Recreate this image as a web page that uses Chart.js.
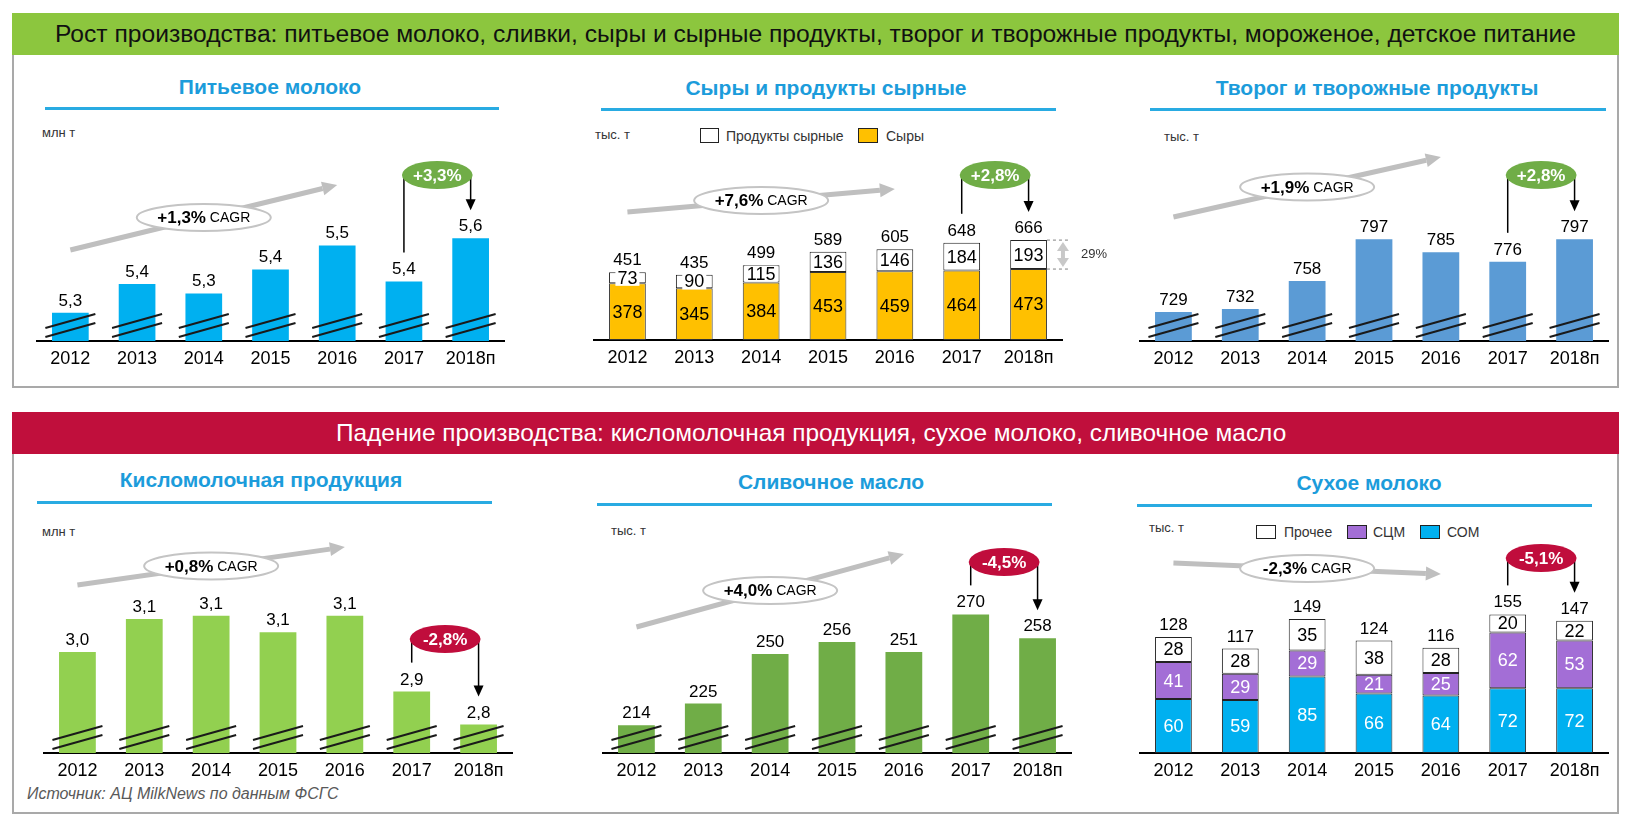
<!DOCTYPE html>
<html lang="ru">
<head>
<meta charset="utf-8">
<title>Производство молочной продукции 2012-2018</title>
<script src="https://cdn.jsdelivr.net/npm/chart.js@4.4.1/dist/chart.umd.min.js"></script>
<style>
  html, body { margin: 0; padding: 0; background: #fff; }
  body { width: 1632px; height: 822px; position: relative; overflow: hidden;
         font-family: "Liberation Sans", Arial, sans-serif; }
  .box { position: absolute; left: 12px; width: 1607px; border: 2px solid #a9a9a9; box-sizing: border-box; }
  .band { position: absolute; left: 12px; width: 1607px; height: 42px; }
  .band span { position: absolute; top: 0; line-height: 42px; white-space: nowrap; transform-origin: left center; }
  .ttl { position: absolute; width: 600px; text-align: center; font-weight: bold; font-size: 21px;
         color: #1c9cdb; line-height: 24px; white-space: nowrap; }
  .uline { position: absolute; height: 3px; background: #29abe2; }
  .unit { position: absolute; font-size: 13px; color: #333; line-height: 14px; white-space: nowrap; }
  .leg { position: absolute; font-size: 14px; color: #333; line-height: 16px; white-space: nowrap; }
  .sw { position: absolute; border: 1px solid #222; box-sizing: border-box; }
  .src { position: absolute; left: 27px; top: 785px; font-size: 16px; font-style: italic; color: #595959; white-space: nowrap; }
  canvas { position: absolute; }
</style>
</head>
<body>

<div class="box" style="top:13px;height:375px"></div>
<div class="band" style="top:13px;background:#8cc63e"><span id="hdrUp" style="left:43px;font-size:23px;color:#111">Рост производства: питьевое молоко, сливки, сыры и сырные продукты, творог и творожные продукты, мороженое, детское питание</span></div>

<div class="box" style="top:412px;height:402px"></div>
<div class="band" style="top:412px;background:#c00f3c"><span id="hdrDown" style="left:324px;font-size:24px;color:#fff">Падение производства: кисломолочная продукция, сухое молоко, сливочное масло</span></div>

<div class="ttl" style="left:-30px;top:75px">Питьевое молоко</div>
<div class="uline" style="left:45px;top:107px;width:454px"></div>
<div class="unit" style="left:42px;top:126px">млн т</div>

<div class="ttl" style="left:526px;top:76px">Сыры и продукты сырные</div>
<div class="uline" style="left:601px;top:108px;width:455px"></div>
<div class="unit" style="left:595px;top:128px">тыс. т</div>
<div class="sw" style="left:700px;top:128px;width:19px;height:15px;background:#fff"></div>
<div class="leg" style="left:726px;top:128px">Продукты сырные</div>
<div class="sw" style="left:858px;top:128px;width:20px;height:15px;background:#ffc000"></div>
<div class="leg" style="left:886px;top:128px">Сыры</div>

<div class="ttl" style="left:1077px;top:76px">Творог и творожные продукты</div>
<div class="uline" style="left:1150px;top:108px;width:456px"></div>
<div class="unit" style="left:1164px;top:130px">тыс. т</div>

<div class="ttl" style="left:-39px;top:468px">Кисломолочная продукция</div>
<div class="uline" style="left:37px;top:501px;width:455px"></div>
<div class="unit" style="left:42px;top:525px">млн т</div>

<div class="ttl" style="left:531px;top:470px">Сливочное масло</div>
<div class="uline" style="left:597px;top:503px;width:455px"></div>
<div class="unit" style="left:611px;top:524px">тыс. т</div>

<div class="ttl" style="left:1069px;top:471px">Сухое молоко</div>
<div class="uline" style="left:1137px;top:504px;width:455px"></div>
<div class="unit" style="left:1149px;top:521px">тыс. т</div>
<div class="sw" style="left:1256px;top:525px;width:20px;height:14px;background:#fff"></div>
<div class="leg" style="left:1284px;top:524px">Прочее</div>
<div class="sw" style="left:1347px;top:525px;width:20px;height:14px;background:#a36ed6"></div>
<div class="leg" style="left:1373px;top:524px">СЦМ</div>
<div class="sw" style="left:1420px;top:525px;width:20px;height:14px;background:#00b0f0"></div>
<div class="leg" style="left:1447px;top:524px">СОМ</div>

<div class="src">Источник: АЦ MilkNews по данным ФСГС</div>

<script>
const FONT = '"Liberation Sans", Arial, sans-serif';

const years = ['2012', '2013', '2014', '2015', '2016', '2017', '2018п'];

// Питьевое молоко, млн т
const milkValues = [5.26, 5.38, 5.34, 5.44, 5.54, 5.39, 5.57];
// Сыры и продукты сырные, тыс. т
const cheeseValues = [378, 345, 384, 453, 459, 464, 473];
const cheeseProductValues = [73, 90, 115, 136, 146, 184, 193];
const cheeseTotals = [451, 435, 499, 589, 605, 648, 666];
// Творог и творожные продукты, тыс. т
const curdValues = [729, 732, 758, 797, 785, 776, 797];
// Кисломолочная продукция, млн т
const fermentedValues = [3.02, 3.12, 3.13, 3.08, 3.13, 2.90, 2.80];
// Сливочное масло, тыс. т
const butterValues = [214, 225, 250, 256, 251, 270, 258];
// Сухое молоко, тыс. т
const somValues = [60, 59, 85, 66, 64, 72, 72];     // СОМ
const scmValues = [41, 29, 29, 21, 25, 62, 53];     // СЦМ
const otherValues = [28, 28, 35, 38, 28, 20, 22];   // Прочее
const powderTotals = [128, 117, 149, 124, 116, 155, 147];

// CAGR 2012-2018 и прирост 2018/2017
const cagrLabels = ['+1,3%', '+7,6%', '+1,9%', '+0,8%', '+4,0%', '-2,3%'];
const yoyLabels = ['+3,3%', '+2,8%', '+2,8%', '-2,8%', '-4,5%', '-5,1%'];

const GREEN_BADGE = '#70ad47';
const RED_BADGE = '#c00d3c';

const oneDec = v => v.toFixed(1).replace('.', ',');
const whole = v => String(v);

// header text is a bit wider than the font, stretch it like the original
function fitScale(id, target, part) {
    const el = document.getElementById(id);
    const c = document.createElement('canvas').getContext('2d');
    c.font = getComputedStyle(el).fontSize + ' ' + FONT;
    const w = c.measureText(part || el.textContent).width;
    el.style.transform = 'scaleX(' + (target / w) + ')';
}
fitScale('hdrUp', 1521);
fitScale('hdrDown', 651, 'Падение производства: кисломолочная продукция, сухое');

// annotations: break marks, value labels, CAGR arrow, yoy badge
const decor = {
    id: 'decor',
    afterDatasetsDraw(chart, args, o) {
        const ctx = chart.ctx;
        const xs = chart.scales.x;
        const base = chart.chartArea.bottom;
        const metas = chart.data.datasets.map((d, i) => chart.getDatasetMeta(i));
        const bars = metas[0].data;
        const tops = metas[metas.length - 1].data.map(b => b.y);
        ctx.save();

        // разрыв оси
        if (o.breaks) {
            ctx.strokeStyle = '#1a1a1a';
            ctx.lineWidth = 2;
            bars.forEach(b => {
                [0, 9].forEach(d => {
                    ctx.beginPath();
                    ctx.moveTo(b.x - 25, base - 13 + d);
                    ctx.lineTo(b.x + 25, base - 27 + d);
                    ctx.stroke();
                });
            });
        }

        // подписи сегментов
        if (o.segColors) {
            ctx.font = '18px ' + FONT;
            ctx.textAlign = 'center';
            ctx.textBaseline = 'middle';
            metas.forEach((m, di) => {
                const data = chart.data.datasets[di].data;
                m.data.forEach((b, i) => {
                    const cy = (b.y + b.base) / 2;
                    const txt = String(data[i]);
                    if (o.segBg && o.segBg[di]) {
                        const w = ctx.measureText(txt).width + 4;
                        ctx.fillStyle = o.segBg[di];
                        ctx.fillRect(b.x - w / 2, cy - 8, w, 16);
                    }
                    ctx.fillStyle = o.segColors[di];
                    ctx.fillText(txt, b.x, cy + 1);
                });
            });
        }

        // подписи над столбцами
        ctx.font = '17px ' + FONT;
        ctx.fillStyle = '#000';
        ctx.textAlign = 'center';
        ctx.textBaseline = 'alphabetic';
        tops.forEach((t, i) => ctx.fillText(o.topLabels[i], bars[i].x, t - 7));

        // доля продуктов сырных
        if (o.share) {
            const i = bars.length - 1;
            const b = bars[i];
            const right = b.x + b.width / 2;
            ctx.setLineDash([3, 3]);
            ctx.strokeStyle = '#808080';
            ctx.lineWidth = 1;
            [tops[i], b.y].forEach(yy => {
                ctx.beginPath();
                ctx.moveTo(right, yy);
                ctx.lineTo(right + 22, yy);
                ctx.stroke();
            });
            ctx.setLineDash([]);
            const ax = right + 16, y0 = tops[i] + 2, y1 = b.y - 2;
            ctx.strokeStyle = '#c8c8c8';
            ctx.fillStyle = '#c8c8c8';
            ctx.lineWidth = 4;
            ctx.beginPath(); ctx.moveTo(ax, y0 + 8); ctx.lineTo(ax, y1 - 8); ctx.stroke();
            ctx.beginPath(); ctx.moveTo(ax, y0); ctx.lineTo(ax - 6, y0 + 9); ctx.lineTo(ax + 6, y0 + 9); ctx.closePath(); ctx.fill();
            ctx.beginPath(); ctx.moveTo(ax, y1); ctx.lineTo(ax - 6, y1 - 9); ctx.lineTo(ax + 6, y1 - 9); ctx.closePath(); ctx.fill();
            ctx.font = '13px ' + FONT;
            ctx.fillStyle = '#333';
            ctx.textAlign = 'left';
            ctx.textBaseline = 'middle';
            ctx.fillText(o.share, right + 34, (tops[i] + b.y) / 2);
        }

        // CAGR
        const c = o.cagr;
        const p0 = {x: xs.getPixelForValue(0), y: base - c.y0};
        const p1 = {x: xs.getPixelForValue(4), y: base - c.y1};
        const ang = Math.atan2(p1.y - p0.y, p1.x - p0.x);
        const cs = Math.cos(ang), sn = Math.sin(ang), head = 15;
        ctx.strokeStyle = '#bfbfbf';
        ctx.fillStyle = '#bfbfbf';
        ctx.lineWidth = 5;
        ctx.beginPath();
        ctx.moveTo(p0.x, p0.y);
        ctx.lineTo(p1.x - head * cs, p1.y - head * sn);
        ctx.stroke();
        ctx.beginPath();
        ctx.moveTo(p1.x, p1.y);
        ctx.lineTo(p1.x - head * cs + 7 * sn, p1.y - head * sn - 7 * cs);
        ctx.lineTo(p1.x - head * cs - 7 * sn, p1.y - head * sn + 7 * cs);
        ctx.closePath();
        ctx.fill();
        const ex = xs.getPixelForValue(2), ey = (p0.y + p1.y) / 2;
        ctx.beginPath();
        ctx.ellipse(ex, ey, 67, 13.5, 0, 0, Math.PI * 2);
        ctx.fillStyle = '#fff';
        ctx.fill();
        ctx.lineWidth = 2;
        ctx.strokeStyle = '#c4c4c4';
        ctx.stroke();
        ctx.font = 'bold 17px ' + FONT;
        const w1 = ctx.measureText(c.text).width;
        ctx.font = '14px ' + FONT;
        const w2 = ctx.measureText(' CAGR').width;
        const sx = ex - (w1 + w2) / 2;
        ctx.fillStyle = '#000';
        ctx.textAlign = 'left';
        ctx.textBaseline = 'middle';
        ctx.font = 'bold 17px ' + FONT;
        ctx.fillText(c.text, sx, ey + 1);
        ctx.font = '14px ' + FONT;
        ctx.fillText(' CAGR', sx + w1, ey + 1);

        // 2018 к 2017
        const bd = o.badge;
        const xa = bars[5].x, xb = bars[6].x, by = base - bd.lift;
        ctx.strokeStyle = '#000';
        ctx.fillStyle = '#000';
        ctx.lineWidth = 1.5;
        ctx.beginPath(); ctx.moveTo(xa, by); ctx.lineTo(xa, tops[5] - 29); ctx.stroke();
        const tip = tops[6] - 28;
        ctx.beginPath(); ctx.moveTo(xb, by); ctx.lineTo(xb, tip - 8); ctx.stroke();
        ctx.beginPath(); ctx.moveTo(xb, tip); ctx.lineTo(xb - 5, tip - 11); ctx.lineTo(xb + 5, tip - 11); ctx.closePath(); ctx.fill();
        ctx.beginPath();
        ctx.ellipse((xa + xb) / 2, by, (xb - xa) / 2 + 2, 14, 0, 0, Math.PI * 2);
        ctx.fillStyle = bd.color;
        ctx.fill();
        ctx.font = 'bold 17px ' + FONT;
        ctx.fillStyle = '#fff';
        ctx.textAlign = 'center';
        ctx.textBaseline = 'middle';
        ctx.fillText(bd.text, (xa + xb) / 2, by + 1);

        ctx.restore();
    }
};

// one small chart; L/R = plot edges, T = plot top, B = baseline (page px)
function makeChart(p) {
    const cv = document.createElement('canvas');
    const padL = 2, padR = p.padR || 2;
    cv.width = p.R - p.L + padL + padR;
    cv.height = p.B - p.T + 30;
    cv.style.left = (p.L - padL) + 'px';
    cv.style.top = p.T + 'px';
    document.body.appendChild(cv);
    const stacked = p.datasets.length > 1;
    return new Chart(cv.getContext('2d'), {
        type: 'bar',
        data: {labels: years, datasets: p.datasets},
        plugins: [decor],
        options: {
            responsive: false,
            animation: false,
            layout: {padding: {left: padL, right: padR, top: 0, bottom: 0}},
            datasets: {bar: {barPercentage: 0.55, categoryPercentage: 1}},
            scales: {
                x: {
                    stacked: stacked,
                    grid: {display: false, drawTicks: false},
                    border: {display: true, color: '#000', width: 2},
                    ticks: {color: '#000', font: {family: FONT, size: 18}, padding: 7},
                    afterFit(s) { s.height = 30; }
                },
                y: {
                    display: false,
                    stacked: stacked,
                    min: p.min,
                    max: p.min + (p.B - p.T) / p.pxPerUnit
                }
            },
            plugins: {
                legend: {display: false},
                tooltip: {enabled: false},
                decor: p.decor
            }
        }
    });
}

makeChart({
    L: 37, R: 504, T: 118, B: 341, min: 5.142, pxPerUnit: 240,
    datasets: [{label: 'Питьевое молоко', data: milkValues, backgroundColor: '#00b0f0'}],
    decor: {breaks: true, topLabels: milkValues.map(oneDec),
            cagr: {text: cagrLabels[0], y0: 91, y1: 156},
            badge: {text: yoyLabels[0], color: GREEN_BADGE, lift: 166}}
});

makeChart({
    L: 594, R: 1062, T: 118, B: 340, min: 0, pxPerUnit: 0.15, padR: 50,
    datasets: [
        {label: 'Сыры', data: cheeseValues, backgroundColor: '#ffc000', borderColor: '#333', borderWidth: 1, borderSkipped: false},
        {label: 'Продукты сырные', data: cheeseProductValues, backgroundColor: '#fff', borderColor: '#222', borderWidth: 1, borderSkipped: false}
    ],
    decor: {segColors: ['#000', '#000'], segBg: [null, '#fff'], topLabels: cheeseTotals.map(whole),
            share: Math.round(cheeseProductValues[6] / cheeseTotals[6] * 100) + '%',
            cagr: {text: cagrLabels[1], y0: 128, y1: 151},
            badge: {text: yoyLabels[1], color: GREEN_BADGE, lift: 165}}
});

makeChart({
    L: 1140, R: 1608, T: 118, B: 341, min: 702, pxPerUnit: 1.07,
    datasets: [{label: 'Творог и творожные продукты', data: curdValues, backgroundColor: '#5b9bd5'}],
    decor: {breaks: true, topLabels: curdValues.map(whole),
            cagr: {text: cagrLabels[2], y0: 124, y1: 184},
            badge: {text: yoyLabels[2], color: GREEN_BADGE, lift: 166}}
});

makeChart({
    L: 44, R: 512, T: 512, B: 753, min: 2.714, pxPerUnit: 330,
    datasets: [{label: 'Кисломолочная продукция', data: fermentedValues, backgroundColor: '#92d050'}],
    decor: {breaks: true, topLabels: fermentedValues.map(oneDec),
            cagr: {text: cagrLabels[3], y0: 168, y1: 206},
            badge: {text: yoyLabels[3], color: RED_BADGE, lift: 114}}
});

makeChart({
    L: 603, R: 1071, T: 512, B: 753, min: 200, pxPerUnit: 1.98,
    datasets: [{label: 'Сливочное масло', data: butterValues, backgroundColor: '#70ad47'}],
    decor: {breaks: true, topLabels: butterValues.map(whole),
            cagr: {text: cagrLabels[4], y0: 126, y1: 199},
            badge: {text: yoyLabels[4], color: RED_BADGE, lift: 191}}
});

makeChart({
    L: 1140, R: 1608, T: 512, B: 753, min: 0, pxPerUnit: 0.9,
    datasets: [
        {label: 'СОМ', data: somValues, backgroundColor: '#00b0f0', borderColor: '#222', borderWidth: 1, borderSkipped: false},
        {label: 'СЦМ', data: scmValues, backgroundColor: '#a36ed6', borderColor: '#222', borderWidth: 1, borderSkipped: false},
        {label: 'Прочее', data: otherValues, backgroundColor: '#fff', borderColor: '#222', borderWidth: 1, borderSkipped: false}
    ],
    decor: {segColors: ['#fff', '#fff', '#000'], topLabels: powderTotals.map(whole),
            cagr: {text: cagrLabels[5], y0: 190, y1: 179},
            badge: {text: yoyLabels[5], color: RED_BADGE, lift: 195}}
});
</script>
</body>
</html>
